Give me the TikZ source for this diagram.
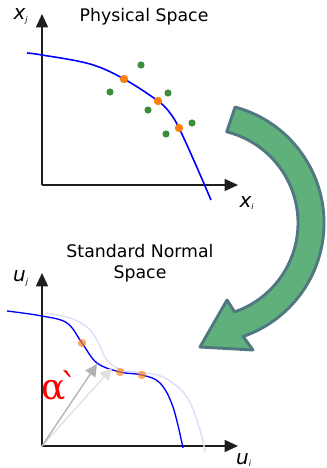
\documentclass[tikz,border=0pt]{standalone}
\usepackage{fontspec}
\setmainfont{DejaVu Sans}
\newfontfamily\alphafont{DejaVu Serif}
\usepackage{xcolor}
\usetikzlibrary{arrows.meta,calc}

\definecolor{axisgray}{RGB}{30,30,30}
\definecolor{ptorange}{RGB}{255,127,14}
\definecolor{ptgreen}{RGB}{60,140,60}
\definecolor{arrowfill}{RGB}{96,176,124}
\definecolor{arrowedge}{RGB}{80,120,128}
\definecolor{ghostblue}{RGB}{222,222,246}

\tikzset{
  axis/.style={->, line width=1.1pt, axisgray},
  lsf/.style={blue, line width=1.2pt},
  mpp/.style={fill=ptorange, draw=none},
  sample/.style={fill=ptgreen, draw=none},
  axlabel/.style={font=\fontsize{15}{15}\selectfont\itshape, inner sep=0pt},
  title/.style={font=\fontsize{13}{16}\selectfont, align=center, inner sep=0pt}
}

\begin{document}
\begin{tikzpicture}[x=0.75pt,y=-0.75pt,>={Triangle[length=10pt,width=9pt]}]
  \useasboundingbox (0,0) rectangle (326,468);

  % physical space
  \coordinate (O1) at (42,185);
  \coordinate (X1) at (238,185);
  \coordinate (Y1) at (42,14);
  \draw[axis] (O1) -- (X1);
  \draw[axis] (O1) -- (Y1);
  \node[axlabel] (xj) at (21,16) {x\textsubscript{\fontsize{6}{6}\selectfont j}};
  \node[axlabel] (xi) at (247,203) {x\textsubscript{\fontsize{6}{6}\selectfont i}};
  \node[title] (phys) at (144,17) {Physical Space};

  \draw[lsf] plot[smooth, tension=0.6] coordinates {(27,53) (42,55) (90,64) (124,79) (158,101) (170,113) (179,128) (195,163) (211,200)};

  \foreach \px/\py in {141/65, 110/92, 168/93, 148/110, 192/123, 166/134}
    \fill[sample] (\px,\py) circle (3.6);
  \foreach \px/\py in {124/79, 158/101, 179/128}
    \fill[mpp] (\px,\py) circle (4.2);

  % transformation arrow
  \coordinate (C) at (204,223);
  \draw[arrowedge, fill=arrowfill, line width=2.2pt, line join=round]
    ($(C)+(-75:120)$) arc (-75:71:120)
    -- (253,350) -- (200,347) -- (227,300)
    -- ($(C)+(71:94)$) arc (71:-76:94) -- cycle;

  % standard normal space
  \node[title] (std) at (140,263) {Standard Normal\\Space};
  \coordinate (O2) at (42,446);
  \coordinate (X2) at (238,446);
  \coordinate (Y2) at (42,273);
  \draw[axis] (O2) -- (X2);
  \draw[axis] (O2) -- (Y2);
  \node[axlabel] (uj) at (21,278) {u\textsubscript{\fontsize{6}{6}\selectfont j}};
  \node[axlabel] (ui) at (244,460) {u\textsubscript{\fontsize{6}{6}\selectfont i}};

  \draw[ghostblue, line width=1.1pt] plot[smooth, tension=0.6] coordinates {(45,313) (70,318) (87,327) (97,340) (107,360) (122,370) (145,373) (165,378) (187,397) (200,430) (205,452)};
  \draw[lsf, line width=1pt] plot[smooth, tension=0.6] coordinates {(7,311) (42,316) (67,323) (82,343) (97,363) (120,372) (142,375) (160,383) (173,407) (183,448)};

  \coordinate (A1) at (97,364);
  \coordinate (A2) at (112,368);
  \draw[->, black!12, line width=1pt, >={Triangle[length=9pt,width=9pt]}] (O2) -- (A2);
  \draw[->, black!30, line width=1pt, >={Triangle[length=9pt,width=9pt]}] (O2) -- (A1);
  \node[red, font=\alphafont\fontsize{27}{27}\selectfont, inner sep=0pt] (alpha) at (60,386) {α\kern-4.5pt`};

  \foreach \px/\py in {82/343, 120/372, 142/375}
    \fill[mpp, opacity=0.65] (\px,\py) circle (4.2);
\end{tikzpicture}
\end{document}
